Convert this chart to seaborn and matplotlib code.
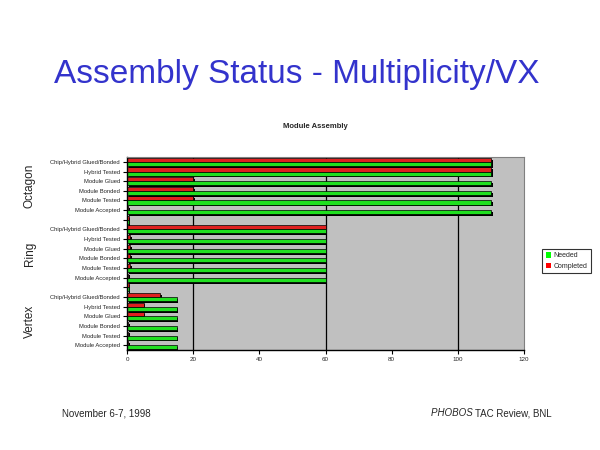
import pandas as pd
import seaborn as sns
import matplotlib.pyplot as plt
import matplotlib.patheffects as pe
from matplotlib.patches import Patch
from matplotlib.transforms import blended_transform_factory

# Values (x axis 0-120)
steps = ['Chip/Hybrid Glued/Bonded', 'Hybrid Tested', 'Module Glued',
         'Module Bonded', 'Module Tested', 'Module Accepted']
groups = ['Octagon', 'Ring', 'Vertex']

completed_octagon = [110, 110, 20, 20, 20, 0.3]
needed_octagon = [110, 110, 110, 110, 110, 110]
completed_ring = [60, 1, 1, 1, 1, 0.3]
needed_ring = [60, 60, 60, 60, 60, 60]
completed_vertex = [10, 5, 5, 0.3, 0.3, 0.3]
needed_vertex = [15, 15, 15, 15, 15, 15]
gap_value = 0.5  # small stub on the empty rows between groups

x_ticks = [0, 20, 40, 60, 80, 100, 120]
grid_lines = [20, 60, 100]

# Build long table, one row id per bar line (with blank spacer rows)
rows = []
labels = []
row_id = 0
blocks = [(completed_octagon, needed_octagon),
          (completed_ring, needed_ring),
          (completed_vertex, needed_vertex)]
for gi, (comp, need) in enumerate(blocks):
    for s, c, n in zip(steps, comp, need):
        rows.append({'row': row_id, 'status': 'Completed', 'value': c})
        rows.append({'row': row_id, 'status': 'Needed', 'value': n})
        labels.append(s)
        row_id += 1
    if gi < len(blocks) - 1:
        rows.append({'row': row_id, 'status': 'Completed', 'value': gap_value})
        rows.append({'row': row_id, 'status': 'Needed', 'value': gap_value})
        labels.append('')
        row_id += 1
df = pd.DataFrame(rows)
df['row'] = df['row'].astype(str)
order = [str(i) for i in range(row_id)]

sns.set_style('white')
plt.rcParams['font.family'] = ['Liberation Sans', 'DejaVu Sans']

fig = plt.figure(figsize=(6, 4.5), dpi=100)
ax = fig.add_axes([0.2117, 0.222, 0.6617, 0.429])
ax.set_facecolor('#c0c0c0')

sns.barplot(data=df, x='value', y='row', hue='status', order=order,
            hue_order=['Completed', 'Needed'],
            palette={'Completed': '#ff0000', 'Needed': '#00ff00'},
            orient='h', width=0.84, edgecolor='black', linewidth=0.5,
            legend=False, ax=ax)
for bar in ax.patches:
    bar.set_path_effects([pe.SimplePatchShadow(offset=(1.3, -1.3),
                                               shadow_rgbFace='black', alpha=1),
                          pe.Normal()])

for g in grid_lines:
    ax.axvline(g, color='black', lw=0.9, zorder=0.5)

ax.set_xlim(0, 120)
ax.set_ylim(row_id - 0.5, -0.5)
ax.set_xticks(x_ticks)
ax.set_xticklabels([str(t) for t in x_ticks], fontsize=4.5)
ax.set_yticks(range(row_id))
ax.set_yticklabels(labels, fontsize=4.2)
ax.tick_params(axis='both', length=3, width=0.8, color='black', pad=2,
               left=True, bottom=True)
ax.set_xlabel('')
ax.set_ylabel('')
for side in ['top', 'right']:
    ax.spines[side].set_color('#808080')
for side in ['left', 'bottom']:
    ax.spines[side].set_color('black')
    ax.spines[side].set_linewidth(1)

# Group labels on the left
trans = blended_transform_factory(fig.transFigure, ax.transData)
for gi, name in enumerate(groups):
    center = gi * 7 + 2.5
    ax.text(0.05, center, name, transform=trans, rotation=90,
            ha='center', va='center', fontsize=8.5)

# Titles
fig.text(0.495, 0.835, 'Assembly Status - Multiplicity/VX', ha='center',
         va='center', fontsize=24, color='#3333cc')
fig.text(0.525, 0.72, 'Module Assembly', ha='center', va='center',
         fontsize=5.5, fontweight='bold')

# Legend
handles = [Patch(facecolor='#00ff00', edgecolor='none', label='Needed'),
           Patch(facecolor='#ff0000', edgecolor='none', label='Completed')]
leg = fig.legend(handles=handles, loc='upper left', bbox_to_anchor=(0.898, 0.455),
                 fontsize=5, frameon=True, fancybox=False, edgecolor='black',
                 handlelength=0.8, handleheight=0.8, handletextpad=0.3,
                 borderpad=0.5, labelspacing=0.5)
leg.get_frame().set_linewidth(0.8)

# Footer
fig.text(0.103, 0.082, 'November 6-7, 1998', ha='left', va='center', fontsize=7)
t = fig.text(0.92, 0.082, 'TAC Review, BNL', ha='right', va='center', fontsize=7)
ax.annotate('PHOBOS ', xy=(0, 0.5), xycoords=t, ha='right', va='center',
            fontsize=7, style='italic')

fig.savefig('out.png', dpi=100)
